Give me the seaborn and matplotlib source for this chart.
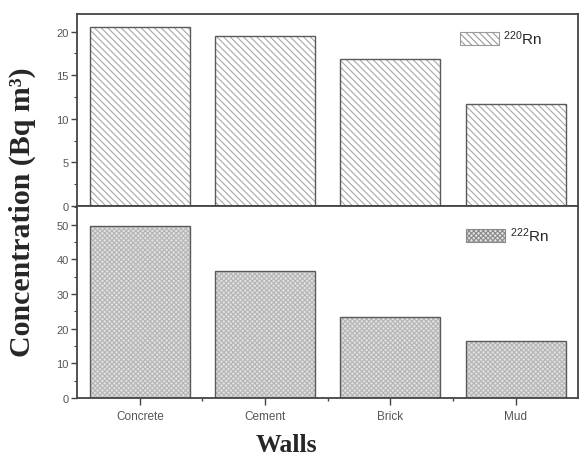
import matplotlib
matplotlib.use("Agg")
import matplotlib.pyplot as plt
from matplotlib.patches import Patch
from matplotlib.ticker import MultipleLocator, FixedLocator
import pandas as pd
import seaborn as sns

# Wall materials and measured concentrations
walls = ["Concrete", "Cement", "Brick", "Mud"]
thoron = [20.5, 19.5, 16.8, 11.7]     # 220Rn
radon = [49.7, 36.6, 23.5, 16.5]      # 222Rn

thoron_ticks = [0, 5, 10, 15, 20]
radon_ticks = [0, 10, 20, 30, 40, 50]

sns.set_style("white")
plt.rcParams["font.family"] = ["Liberation Sans", "DejaVu Sans"]
plt.rcParams["mathtext.default"] = "regular"
plt.rcParams["hatch.linewidth"] = 0.8

df_tn = pd.DataFrame({"wall": walls, "value": thoron})
df_rn = pd.DataFrame({"wall": walls, "value": radon})

fig = plt.figure(figsize=(5.8, 4.56), dpi=100)
ax_top = fig.add_axes([0.133, 0.546, 0.864, 0.421])
ax_bot = fig.add_axes([0.133, 0.125, 0.864, 0.421])

spine_col = "#444444"
tick_col = "#555555"
diag = "\\" * 5
cross = "x" * 7

# 220Rn: diagonal hatch
sns.barplot(data=df_tn, x="wall", y="value", ax=ax_top, width=0.8,
            color="white", edgecolor="#a8a8a8", linewidth=0, hatch=diag,
            saturation=1)
sns.barplot(data=df_tn, x="wall", y="value", ax=ax_top, width=0.8,
            color="#5a5a5a", fill=False, linewidth=1.0)

# 222Rn: fine cross texture on light grey
sns.barplot(data=df_rn, x="wall", y="value", ax=ax_bot, width=0.8,
            color="#e0e0e0", edgecolor="#b5b5b5", linewidth=0, hatch=cross,
            saturation=1)
sns.barplot(data=df_rn, x="wall", y="value", ax=ax_bot, width=0.8,
            color="#5a5a5a", fill=False, linewidth=1.0)

for ax in (ax_top, ax_bot):
    ax.set_xlim(-0.5, 3.5)
    ax.set_xlabel("")
    ax.set_ylabel("")
    for s in ax.spines.values():
        s.set_visible(True)
        s.set_color(spine_col)
        s.set_linewidth(1.3)
    ax.tick_params(axis="y", which="major", direction="out", length=4,
                   width=1.0, color=spine_col, labelsize=8, labelcolor=tick_col,
                   left=True, pad=2)
    ax.tick_params(axis="y", which="minor", direction="out", length=2,
                   width=0.8, color=spine_col, left=True)

ax_top.set_ylim(0, 22)
ax_top.yaxis.set_major_locator(FixedLocator(thoron_ticks))
ax_top.yaxis.set_minor_locator(MultipleLocator(2.5))
ax_top.tick_params(axis="x", which="both", bottom=False, labelbottom=False)

ax_bot.set_ylim(0, 55.4)
ax_bot.yaxis.set_major_locator(FixedLocator(radon_ticks))
ax_bot.yaxis.set_minor_locator(MultipleLocator(5))
ax_bot.xaxis.set_minor_locator(FixedLocator([0.5, 1.5, 2.5]))
ax_bot.tick_params(axis="x", which="major", direction="out", length=5,
                   width=1.0, color=spine_col, labelsize=8.5,
                   labelcolor=tick_col, bottom=True, pad=4)
ax_bot.tick_params(axis="x", which="minor", direction="out", length=2.5,
                   width=1.0, color=spine_col, bottom=True)

# Legends
h_tn = Patch(facecolor="white", edgecolor="#9a9a9a", hatch=diag, linewidth=0.8)
ax_top.legend([h_tn], ["$^{220}$Rn"], loc="upper left",
              bbox_to_anchor=(0.765, 0.925), frameon=False, fontsize=11,
              handlelength=2.5, handleheight=0.9, handletextpad=0.3,
              borderpad=0, borderaxespad=0)
h_rn = Patch(facecolor="#e0e0e0", edgecolor="#8a8a8a", hatch=cross, linewidth=0.8)
ax_bot.legend([h_rn], ["$^{222}$Rn"], loc="upper left",
              bbox_to_anchor=(0.775, 0.9), frameon=False, fontsize=11,
              handlelength=2.6, handleheight=1.0, handletextpad=0.3,
              borderpad=0, borderaxespad=0)

fig.text(0.038, 0.535, "Concentration (Bq m\u00b3)", rotation=90,
         ha="center", va="center", fontsize=21.5, fontweight="bold",
         family="Liberation Serif")
fig.text(0.494, 0.022, "Walls", ha="center", va="center", fontsize=18.5,
         fontweight="bold", family="Liberation Serif")

fig.savefig("out.png", dpi=100)
